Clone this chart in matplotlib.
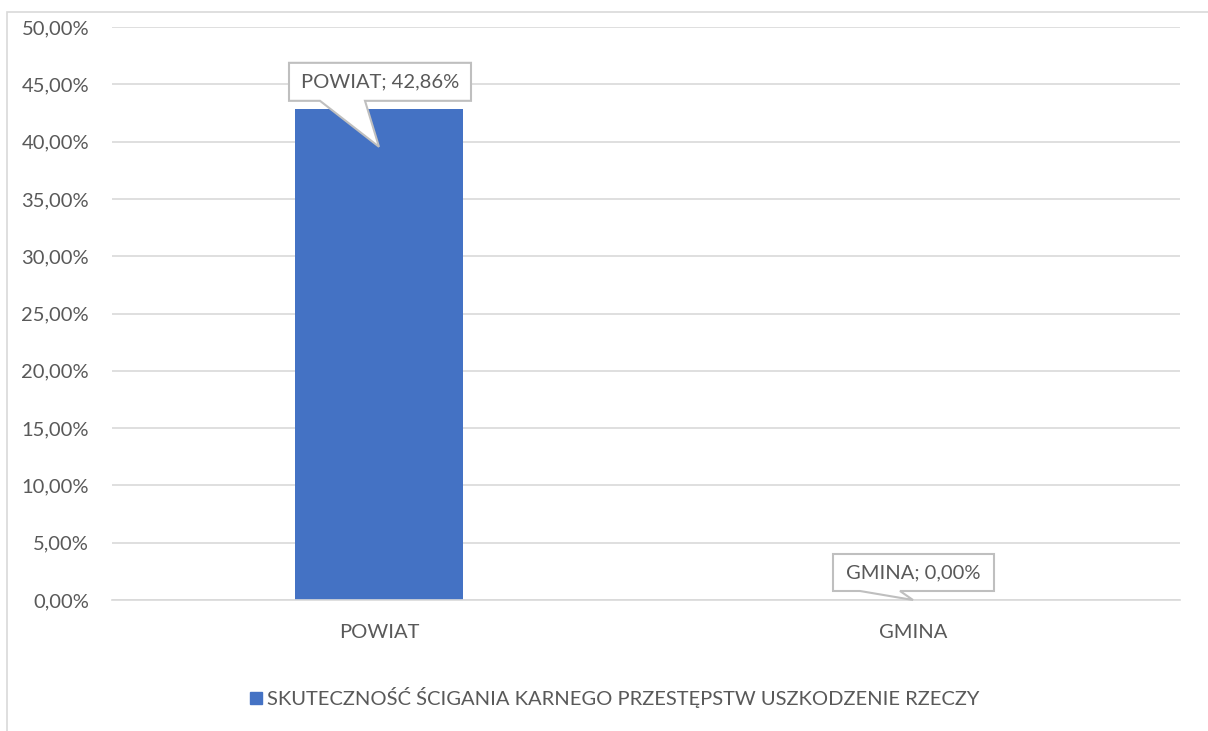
import numpy as np
import matplotlib
matplotlib.use('Agg')
import matplotlib.pyplot as plt
from matplotlib.patches import Polygon, Rectangle
from matplotlib.transforms import IdentityTransform
from matplotlib.ticker import FuncFormatter

# dane
kategorie = ['POWIAT', 'GMINA']
wartosci = [42.86, 0.00]
seria = 'SKUTECZNOŚĆ ŚCIGANIA KARNEGO PRZESTĘPSTW USZKODZENIE RZECZY'

KOLOR_SLUPKA = '#4472c4'
KOLOR_TEKSTU = '#595959'
KOLOR_SIATKI = '#d9d9d9'
KOLOR_RAMKI = '#bfbfbf'
ROZMIAR = 14.5

plt.rcParams['font.family'] = ['Lato', 'DejaVu Sans']

fig = plt.figure(figsize=(12.08, 7.31), dpi=100)
ax = fig.add_axes([112 / 1208, 1 - 600 / 731, (1180 - 112) / 1208, (600 - 27) / 731])

pozycje = np.arange(len(kategorie))
ax.bar(pozycje, wartosci, width=0.315, color=KOLOR_SLUPKA, zorder=2)

ax.set_xlim(-0.5, len(kategorie) - 0.5)
ax.set_ylim(0, 50)
ax.set_yticks(np.arange(0, 50.1, 5))
ax.yaxis.set_major_formatter(FuncFormatter(lambda v, p: f'{v:.2f}%'.replace('.', ',')))
ax.set_xticks(pozycje)
ax.set_xticklabels(kategorie)
ax.tick_params(axis='both', length=0, labelsize=ROZMIAR, labelcolor=KOLOR_TEKSTU)
ax.tick_params(axis='y', pad=16.5)
ax.tick_params(axis='x', pad=17)
ax.grid(axis='y', color=KOLOR_SIATKI, linewidth=1.2, zorder=0)
for s in ['top', 'right', 'left']:
    ax.spines[s].set_visible(False)
ax.spines['bottom'].set_color(KOLOR_SIATKI)
ax.spines['bottom'].set_linewidth(1.2)

# ramka wykresu (przycięta na prawej i dolnej krawędzi)
fig.patches.append(Rectangle((7 / 1208, -0.1), 1.2, 1 - 12 / 731 + 0.1,
                             transform=fig.transFigure, fill=False,
                             edgecolor=KOLOR_SIATKI, linewidth=1.2))

# legenda
lx = 250 / 1208
ly = 1 - 698 / 731
fig.patches.append(Rectangle((lx, ly - 6 / 731), 12 / 1208, 12 / 731,
                             transform=fig.transFigure, color=KOLOR_SLUPKA))
fig.text(lx + 17 / 1208, ly, seria, fontsize=ROZMIAR, color=KOLOR_TEKSTU,
         va='center', ha='left')


def dymek(i, tekst, dx_box, dy_box, w, h, baza, dy_grot=0):
    # dymek z etykietą danych, wymiary w pikselach względem wierzchołka słupka
    fig.canvas.draw()
    px, py = ax.transData.transform((pozycje[i], wartosci[i]))
    tx, ty = px, py + dy_grot
    x0 = px + dx_box
    y0 = py + dy_box
    b0, b1 = baza
    pts = [(x0, y0), (x0 + b0, y0), (tx, ty), (x0 + b1, y0),
           (x0 + w, y0), (x0 + w, y0 + h), (x0, y0 + h)]
    fig.patches.append(Polygon(pts, closed=True, transform=IdentityTransform(),
                               facecolor='white', edgecolor=KOLOR_RAMKI,
                               linewidth=1.5, zorder=5))
    fig.text((x0 + w / 2) / fig.bbox.width, (y0 + h / 2) / fig.bbox.height,
             tekst, fontsize=ROZMIAR, color=KOLOR_TEKSTU, ha='center', va='center',
             zorder=6)


dymek(0, 'POWIAT; 42,86%', -90, 8, 182, 38, (31, 76), dy_grot=-38)
dymek(1, 'GMINA; 0,00%', -80, 9, 161, 37, (27, 67))

fig.savefig('out.png', dpi=100)
plt.close(fig)
